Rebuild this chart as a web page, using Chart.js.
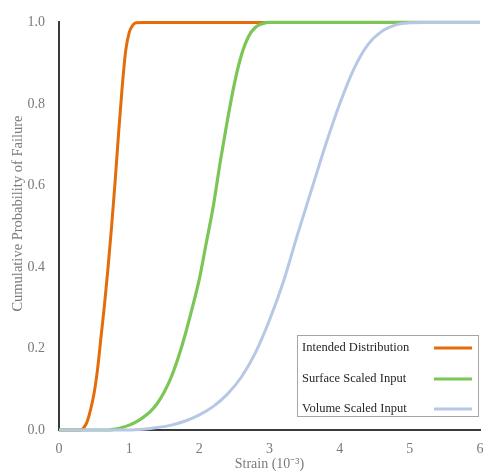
<!DOCTYPE html>
<html>
<head>
    <meta charset="UTF-8">
    <title>Cumulative Probability of Failure</title>
    <style>
        body {
            margin: 0;
            padding: 0;
            background: #fff;
        }

        #chartBox {
            width: 488px;
            height: 476px;
        }
    </style>
</head>
<body>
    <div id="chartBox">
        <canvas id="failureChart"></canvas>
    </div>

    <script src="https://cdn.jsdelivr.net/npm/chart.js"></script>
    <script>
        // valores (strain em 10^-3, probabilidade acumulada)
        const intendedStrain = [0, 0.3, 0.35, 0.4, 0.45, 0.5, 0.55, 0.6, 0.65, 0.7, 0.75, 0.8, 0.85, 0.9, 0.95, 1.0, 1.05, 1.1, 1.2, 6];
        const intendedProb   = [0, 0, 0.005, 0.02, 0.05, 0.09, 0.15, 0.23, 0.31, 0.40, 0.50, 0.61, 0.73, 0.84, 0.93, 0.975, 0.993, 0.999, 1, 1];

        const surfaceStrain = [0, 0.7, 0.8, 0.9, 1.0, 1.1, 1.2, 1.3, 1.4, 1.5, 1.6, 1.7, 1.8, 1.9, 2.0, 2.1, 2.2, 2.3, 2.4, 2.5, 2.6, 2.7, 2.8, 2.9, 3.0, 6];
        const surfaceProb   = [0, 0, 0.002, 0.006, 0.012, 0.02, 0.031, 0.045, 0.065, 0.093, 0.13, 0.178, 0.235, 0.30, 0.37, 0.46, 0.55, 0.66, 0.76, 0.85, 0.92, 0.965, 0.988, 0.997, 1, 1];

        const volumeStrain = [0, 1.0, 1.2, 1.4, 1.6, 1.8, 2.0, 2.2, 2.4, 2.6, 2.8, 3.0, 3.2, 3.4, 3.6, 3.8, 4.0, 4.2, 4.4, 4.6, 4.8, 5.0, 5.2, 6];
        const volumeProb   = [0, 0, 0.002, 0.006, 0.012, 0.022, 0.037, 0.058, 0.088, 0.13, 0.19, 0.27, 0.365, 0.48, 0.59, 0.70, 0.80, 0.885, 0.945, 0.978, 0.994, 0.999, 1, 1];

        const seriesNames  = ['Intended Distribution', 'Surface Scaled Input', 'Volume Scaled Input'];
        const seriesColors = ['#E46C0A', '#7BC656', '#B7C7E6'];

        const yTicks = [0, 0.2, 0.4, 0.6, 0.8, 1.0];
        const xTicks = [0, 1, 2, 3, 4, 5, 6];

        const serif = "'Liberation Serif', 'Times New Roman', serif";

        function toPoints(xs, ys) {
            return xs.map((x, i) => ({ x: x, y: ys[i] }));
        }

        // legenda desenhada dentro da area do grafico, canto inferior direito
        const boxLegend = {
            id: 'boxLegend',
            afterDraw(chart) {
                const ctx = chart.ctx;
                const area = chart.chartArea;
                const left = area.right - 183;
                const top = area.bottom - 95;
                const w = 181, h = 81;
                ctx.save();
                ctx.fillStyle = '#fff';
                ctx.fillRect(left, top, w, h);
                ctx.strokeStyle = '#a6a6a6';
                ctx.lineWidth = 1;
                ctx.strokeRect(left + 0.5, top + 0.5, w, h);
                ctx.font = '12.5px ' + serif;
                ctx.textBaseline = 'middle';
                ctx.fillStyle = '#262626';
                const rows = [13, 44, 74];
                chart.data.datasets.forEach((ds) => {
                    const idx = seriesNames.indexOf(ds.label);
                    const y = top + rows[idx];
                    ctx.fillText(ds.label, left + 5, y);
                    ctx.strokeStyle = ds.borderColor;
                    ctx.lineWidth = 3;
                    ctx.beginPath();
                    ctx.moveTo(left + 137, y);
                    ctx.lineTo(left + 175, y);
                    ctx.stroke();
                });
                ctx.restore();
            }
        };

        const ctx = document.getElementById('failureChart').getContext('2d');

        new Chart(ctx, {
            type: 'line',
            data: {
                datasets: [
                    {
                        label: seriesNames[0],
                        data: toPoints(intendedStrain, intendedProb),
                        borderColor: seriesColors[0],
                        borderWidth: 3,
                        order: 3
                    },
                    {
                        label: seriesNames[1],
                        data: toPoints(surfaceStrain, surfaceProb),
                        borderColor: seriesColors[1],
                        borderWidth: 3.2,
                        order: 2
                    },
                    {
                        label: seriesNames[2],
                        data: toPoints(volumeStrain, volumeProb),
                        borderColor: seriesColors[2],
                        borderWidth: 3,
                        order: 1
                    }
                ]
            },
            options: {
                responsive: true,
                maintainAspectRatio: false,
                animation: false,
                layout: {
                    padding: { top: 13, right: 8, left: 0, bottom: 0 }
                },
                elements: {
                    point: { radius: 0 },
                    line: { cubicInterpolationMode: 'monotone', fill: false }
                },
                datasets: {
                    line: { clip: 4 }
                },
                plugins: {
                    legend: { display: false },
                    tooltip: { enabled: false }
                },
                scales: {
                    x: {
                        type: 'linear',
                        min: 0,
                        max: 6,
                        afterFit: (scale) => {
                            scale.height = 46;
                            // o padding dos ticks nao deve encolher a area do grafico
                            scale.paddingLeft = 0;
                            scale.paddingRight = 0;
                        },
                        afterBuildTicks: (scale) => { scale.ticks = xTicks.map(v => ({ value: v })); },
                        grid: { display: false, drawTicks: false },
                        border: { color: '#3a3a3a', width: 2 },
                        ticks: {
                            padding: 11,
                            color: '#7a7a7a',
                            font: { family: serif, size: 14 },
                            callback: (v) => v
                        },
                        title: {
                            display: true,
                            text: 'Strain (10\u207B\u00B3)',
                            color: '#7a7a7a',
                            font: { family: serif, size: 14 },
                            padding: { top: 0, bottom: 3 }
                        }
                    },
                    y: {
                        min: 0,
                        max: 1,
                        afterFit: (scale) => { scale.width = 59; },
                        afterBuildTicks: (scale) => { scale.ticks = yTicks.map(v => ({ value: v })); },
                        grid: { display: false, drawTicks: false },
                        border: { color: '#3a3a3a', width: 2 },
                        ticks: {
                            padding: 14,
                            color: '#7a7a7a',
                            font: { family: serif, size: 14 },
                            callback: (v) => Number(v).toFixed(1)
                        },
                        title: {
                            display: true,
                            // espacos no inicio para subir um pouco o titulo, como no original
                            text: '\u00A0'.repeat(7) + 'Cumulative Probability of Failure',
                            color: '#7a7a7a',
                            font: { family: serif, size: 14.5 },
                            padding: { top: 9, bottom: 0 }
                        }
                    }
                }
            },
            plugins: [boxLegend]
        });
    </script>
</body>
</html>
